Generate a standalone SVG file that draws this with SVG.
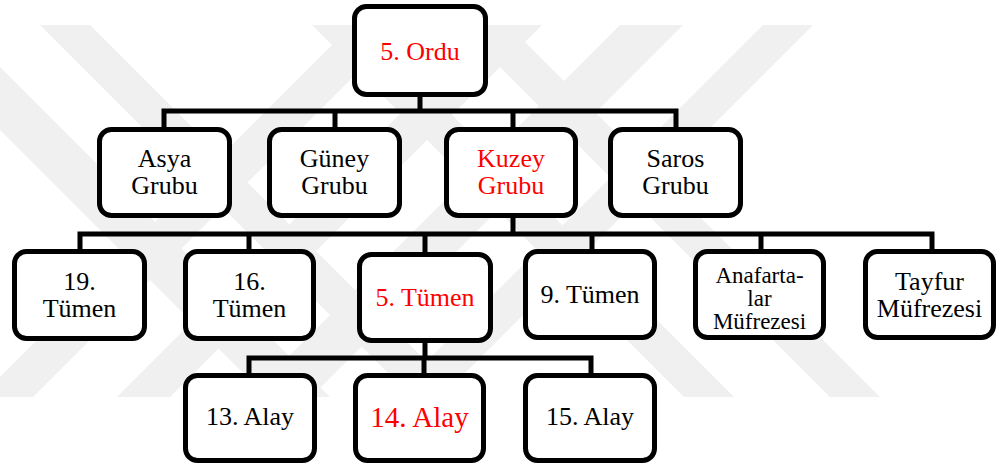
<svg xmlns="http://www.w3.org/2000/svg" width="997" height="468" viewBox="0 0 997 468">
<style>
.box{fill:#ffffff;stroke:#000000;stroke-width:5}
.wm{fill:#f0f0f0;stroke:none}
.con{fill:none;stroke:#000000;stroke-width:5;stroke-linejoin:miter;stroke-linecap:butt}
.t{font-family:'Liberation Serif','Times New Roman',Times,'DejaVu Serif',serif;font-size:26px;fill:#000000;text-anchor:middle}
.red{fill:#ff0000}
.sm{font-size:23px}
.big{font-size:29px}
</style>
<rect width="997" height="468" fill="#ffffff"/>
<g id="watermark">
<polygon class="wm" points="352,25 405,25 33,397 -20,397"/>
<polygon class="wm" points="489,25 542,25 170,397 117,397"/>
<polygon class="wm" points="620,25 683,25 311,397 248,397"/>
<polygon class="wm" points="763,25 813,25 441,397 391,397"/>
<polygon class="wm" points="-105,25 -42,25 330,397 267,397"/>
<polygon class="wm" points="40,25 90,25 462,397 412,397"/>
<polygon class="wm" points="312,25 362,25 734,397 684,397"/>
<polygon class="wm" points="458,25 508,25 880,397 830,397"/>
</g>
<g id="connectors">
<path class="con" d="M420,97 V111"/>
<path class="con" d="M164,127 V111 H676 V127"/>
<path class="con" d="M335,111 V127"/>
<path class="con" d="M513,111 V127"/>
<path class="con" d="M513,218 V234"/>
<path class="con" d="M80,250 V234 H932 V250"/>
<path class="con" d="M249,234 V250"/>
<path class="con" d="M425,234 V252"/>
<path class="con" d="M592,234 V250"/>
<path class="con" d="M761,234 V250"/>
<path class="con" d="M425,343 V358"/>
<path class="con" d="M249,373 V358 H591 V373"/>
<path class="con" d="M424,358 V373"/>
</g>
<g id="n-ordu"><rect class="box" x="354.5" y="6.5" width="131" height="88" rx="12"/><text class="t red" font-family="Liberation Serif, serif" x="420" y="60">5. Ordu</text></g>
<g id="n-asya"><rect class="box" x="99.5" y="129.5" width="130" height="86" rx="12"/><text class="t" font-family="Liberation Serif, serif" x="164.5" y="167">Asya</text><text class="t" font-family="Liberation Serif, serif" x="164.5" y="194">Grubu</text></g>
<g id="n-guney"><rect class="box" x="269.5" y="129.5" width="130" height="86" rx="12"/><text class="t" font-family="Liberation Serif, serif" x="334.5" y="167">Güney</text><text class="t" font-family="Liberation Serif, serif" x="334.5" y="194">Grubu</text></g>
<g id="n-kuzey"><rect class="box" x="446.5" y="129.5" width="129" height="86" rx="12"/><text class="t red" font-family="Liberation Serif, serif" x="511" y="167">Kuzey</text><text class="t red" font-family="Liberation Serif, serif" x="511" y="194">Grubu</text></g>
<g id="n-saros"><rect class="box" x="610.5" y="129.5" width="130" height="86" rx="12"/><text class="t" font-family="Liberation Serif, serif" x="675.5" y="167">Saros</text><text class="t" font-family="Liberation Serif, serif" x="675.5" y="194">Grubu</text></g>
<g id="n-19"><rect class="box" x="14.5" y="251.5" width="130" height="87" rx="12"/><text class="t" font-family="Liberation Serif, serif" x="79.5" y="290">19.</text><text class="t" font-family="Liberation Serif, serif" x="79.5" y="317">Tümen</text></g>
<g id="n-16"><rect class="box" x="185.5" y="251.5" width="128" height="87" rx="12"/><text class="t" font-family="Liberation Serif, serif" x="249.5" y="290">16.</text><text class="t" font-family="Liberation Serif, serif" x="249.5" y="317">Tümen</text></g>
<g id="n-5tumen"><rect class="box" x="359.5" y="254.5" width="131" height="86" rx="12"/><text class="t red" font-family="Liberation Serif, serif" x="425" y="306">5. Tümen</text></g>
<g id="n-9"><rect class="box" x="525.5" y="251.5" width="129" height="86" rx="12"/><text class="t" font-family="Liberation Serif, serif" x="590" y="303">9. Tümen</text></g>
<g id="n-anafartalar"><rect class="box" x="695.5" y="251.5" width="128" height="86" rx="12"/><text class="t sm" font-family="Liberation Serif, serif" x="759.5" y="283">Anafarta-</text><text class="t sm" font-family="Liberation Serif, serif" x="759.5" y="306">lar</text><text class="t sm" font-family="Liberation Serif, serif" x="759.5" y="329">Müfrezesi</text></g>
<g id="n-tayfur"><rect class="box" x="865.5" y="251.5" width="128" height="86" rx="12"/><text class="t" font-family="Liberation Serif, serif" x="929.5" y="290">Tayfur</text><text class="t" font-family="Liberation Serif, serif" x="929.5" y="317">Müfrezesi</text></g>
<g id="n-13"><rect class="box" x="185.5" y="375.5" width="129" height="85" rx="12"/><text class="t" font-family="Liberation Serif, serif" x="250" y="425">13. Alay</text></g>
<g id="n-14"><rect class="box" x="355.5" y="375.5" width="128" height="85" rx="12"/><text class="t red big" font-family="Liberation Serif, serif" x="419.5" y="427">14. Alay</text></g>
<g id="n-15"><rect class="box" x="525.5" y="375.5" width="129" height="85" rx="12"/><text class="t" font-family="Liberation Serif, serif" x="590" y="425">15. Alay</text></g>
</svg>
